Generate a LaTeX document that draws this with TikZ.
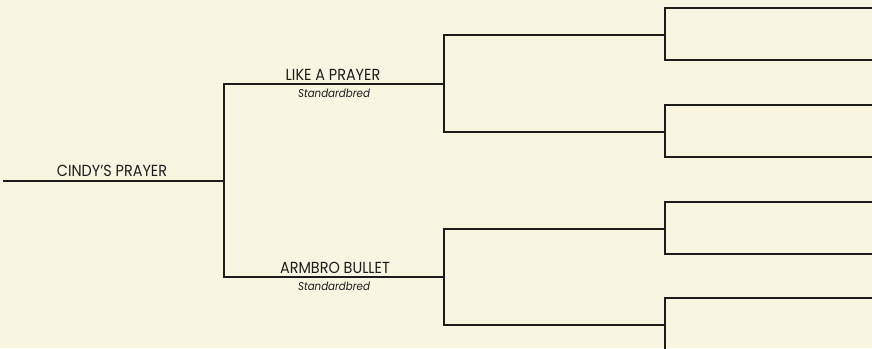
\documentclass[tikz,border=0pt]{standalone}
\usepackage{fontspec}
\setmainfont{Poppins}[FakeStretch=0.9]
\usetikzlibrary{calc}
\definecolor{bg}{HTML}{F8F6E1}
\definecolor{ln}{HTML}{1C1C1C}
\definecolor{shadow}{HTML}{9A988A}
\begin{document}
\begin{tikzpicture}[x=1pt,y=-1pt,
  pline/.style={draw=ln,line width=1.4pt,line cap=rect},
  shline/.style={draw=shadow,line width=1.4pt,line cap=rect},
  horsename/.style={font=\fontsize{16}{18}\selectfont,text=ln,anchor=base,inner sep=0pt},
  breed/.style={font=\fontsize{11.4}{13}\selectfont\itshape,text=ln,anchor=base,inner sep=0pt}]
\fill[bg] (0,0) rectangle (872,348);
\useasboundingbox (0,0) rectangle (872,348);
% coordinates
\coordinate (s0) at (4,181);
\coordinate (j0) at (224,181);
\coordinate (a1) at (224,84);
\coordinate (a2) at (444,84);
\coordinate (b1) at (224,277);
\coordinate (b2) at (444,277);
\coordinate (c1) at (444,35);  \coordinate (c2) at (665,35);
\coordinate (d1) at (444,132); \coordinate (d2) at (665,132);
\coordinate (e1) at (444,229); \coordinate (e2) at (665,229);
\coordinate (f1) at (444,325); \coordinate (f2) at (665,325);
\coordinate (g1) at (665,8);   \coordinate (g2) at (872,8);
\coordinate (h1) at (665,60);  \coordinate (h2) at (872,60);
\coordinate (i1) at (665,105); \coordinate (i2) at (872,105);
\coordinate (k1) at (665,157); \coordinate (k2) at (872,157);
\coordinate (l1) at (665,202); \coordinate (l2) at (872,202);
\coordinate (m1) at (665,254); \coordinate (m2) at (872,254);
\coordinate (n1) at (665,298); \coordinate (n2) at (872,298);
\coordinate (o1) at (665,360); \coordinate (o2) at (872,360);
\begin{scope}
\clip (0,0) rectangle (872,348);
\foreach \sh/\st in {0.9/shline,0/pline}{
  \begin{scope}[shift={(\sh,\sh)}]
  \path[\st] (s0) -- (j0);
  \path[\st] (a2) -- (a1) -- (b1) -- (b2);
  \path[\st] (c2) -- (c1) -- (d1) -- (d2);
  \path[\st] (e2) -- (e1) -- (f1) -- (f2);
  \path[\st] (g2) -- (g1) -- (h1) -- (h2);
  \path[\st] (i2) -- (i1) -- (k1) -- (k2);
  \path[\st] (l2) -- (l1) -- (m1) -- (m2);
  \path[\st] (n2) -- (n1) -- (o1);
  \end{scope}
}
\end{scope}
% labels
\node[horsename] (t0) at (112,176.5) {CINDY{\char"27}S PRAYER};
\node[horsename] (t1) at (333,80.5) {LIKE A PRAYER};
\node[breed] (t1b) at (334,97.5) {Standardbred};
\node[horsename] (t2) at (335,273.5) {ARMBRO BULLET};
\node[breed] (t2b) at (334,290.5) {Standardbred};
\end{tikzpicture}
\end{document}
